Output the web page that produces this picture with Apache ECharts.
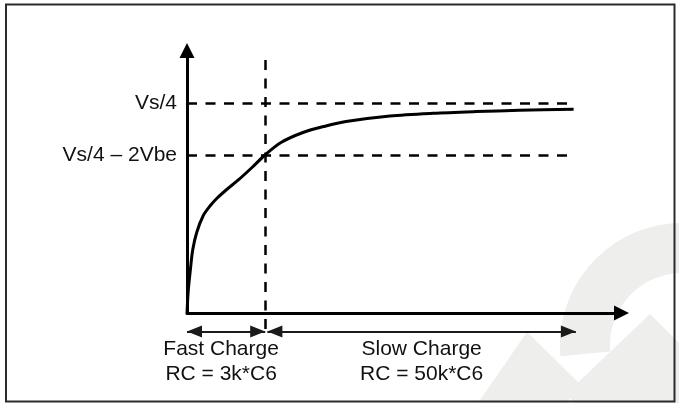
<!DOCTYPE html>
<html><head><meta charset="utf-8">
<script src="https://cdn.jsdelivr.net/npm/echarts@6/dist/echarts.min.js"></script>
<style>html,body{margin:0;padding:0;background:#fff}#c{width:679px;height:403px}</style>
</head><body><div id="c"></div>
<script>
// ---- data ----
const curveX = [0, 0.30, 0.85, 1.31, 2.23, 3.75, 5.29, 6.84, 9.14, 11.81, 14.96, 17.95, 21.63, 26.70, 31.76, 36.59, 46.72, 56.62, 66.51, 76.52, 88.98];
const curveY = [0, 8.76, 17.64, 24.0, 30.67, 37.14, 40.76, 43.62, 47.05, 50.67, 55.43, 60.19, 64.95, 68.76, 71.16, 72.95, 75.05, 76.08, 76.72, 77.22, 77.60];
const levelValues = [80, 60];
const levelLabels = ['Vs/4', 'Vs/4 – 2Vbe'];
const levelEndX = 88.4;
const switchX = 18;
const switchTopY = 96.4;
const rangeY = -7;
const rangeStarts = [0, 18.5];
const rangeEnds = [18, 89.5];
const rangeLabels = ['Fast Charge\nRC = 3k*C6', 'Slow Charge\nRC = 50k*C6'];

const FONT = "'Liberation Sans', Arial, Helvetica, sans-serif";
const TRI = 'path://M5,0L10,10L0,10Z';
// triangle whose tip sits at the centre of its box (so the tip lands on the end point)
const TIP = 'path://M5,10L10,20L0,20ZM5,0';

const chart = echarts.init(document.getElementById('c'), null, {renderer: 'canvas'});
const curveData = curveX.map((x, i) => [x, curveY[i]]);

const dashItems = levelValues.map(v => ({coords: [[0, v], [levelEndX, v]]}))
  .concat([{coords: [[switchX, switchTopY], [switchX, rangeY]]}]);

const rangeItems = rangeStarts.map((s, i) => ({
  name: rangeLabels[i],
  coords: [[s, rangeY], [rangeEnds[i], rangeY]],
  label: {offset: [i === 0 ? -5 : 0, 0]}
}));

chart.setOption({
  animation: false,
  backgroundColor: '#ffffff',
  grid: {left: 187, right: 57.5, top: 50.5, bottom: 90, containLabel: false, outerBoundsMode: 'none'},
  xAxis: {
    type: 'value', min: 0, max: 100,
    axisLine: {show: true, onZero: false, symbol: ['none', TRI], symbolSize: [15, 15],
      lineStyle: {color: '#000', width: 3}},
    axisTick: {show: false}, axisLabel: {show: false}, splitLine: {show: false}
  },
  yAxis: {
    type: 'value', min: 0, max: 100, interval: 20,
    axisLine: {show: true, onZero: false, symbol: ['none', TRI], symbolSize: [15, 15],
      lineStyle: {color: '#000', width: 3}},
    axisTick: {show: false}, splitLine: {show: false},
    axisLabel: {
      show: true, margin: 10, fontSize: 21, color: '#111', fontFamily: FONT,
      formatter: v => { const i = levelValues.indexOf(v); return i >= 0 ? levelLabels[i] : ''; }
    }
  },
  graphic: [
    {type: 'sector', z: -10, silent: true,
      shape: {cx: 682, cy: 345, r0: 72, r: 122, startAngle: 3.05, endAngle: 5.3},
      style: {fill: '#eeeeec'}},
    {type: 'polygon', z: -10, silent: true,
      shape: {points: [[478, 403], [527, 332], [582, 386], [566, 403]]},
      style: {fill: '#eeeeec'}},
    {type: 'polygon', z: -10, silent: true,
      shape: {points: [[566, 394], [650, 314], [679, 343], [679, 403], [575, 403]]},
      style: {fill: '#eeeeec'}},
    {type: 'rect', z: 100, silent: true,
      shape: {x: 6, y: 4.5, width: 668.5, height: 397},
      style: {fill: 'none', stroke: '#2b2b2b', lineWidth: 2}}
  ],
  series: [
    {
      type: 'line', data: curveData, showSymbol: false, symbol: 'none',
      smooth: 0.3, clip: false, silent: true,
      lineStyle: {color: '#000', width: 3}, z: 5
    },
    {
      type: 'lines', coordinateSystem: 'cartesian2d', clip: false, silent: true,
      symbol: ['none', 'none'],
      lineStyle: {color: '#000', width: 2.5, type: [10, 8.5], opacity: 1, curveness: 0},
      data: dashItems, z: 4
    },
    {
      type: 'lines', coordinateSystem: 'cartesian2d', clip: false, silent: true,
      symbol: [TIP, TIP], symbolSize: [[12, 30], [12, 30]],
      lineStyle: {color: '#1a1a1a', width: 2, type: 'solid', opacity: 1, curveness: 0},
      label: {show: true, position: 'insideMiddleBottom', distance: 5, formatter: '{b}',
        fontSize: 21, lineHeight: 25, color: '#111', fontFamily: FONT, align: 'center'},
      data: rangeItems, z: 4
    }
  ]
});
</script>
</body></html>
